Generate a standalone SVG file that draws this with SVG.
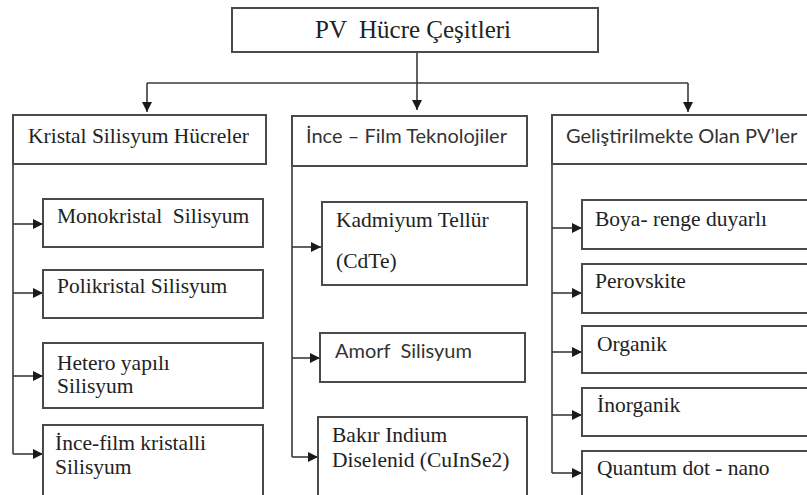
<svg xmlns="http://www.w3.org/2000/svg" width="807" height="495" viewBox="0 0 807 495">
<defs>
<marker id="ah" viewBox="0 0 10 10" refX="10" refY="5" markerWidth="10" markerHeight="10" markerUnits="userSpaceOnUse" orient="auto">
<path d="M0,0 L10,5 L0,10 z" fill="#1a1a1a"/>
</marker>
</defs>
<style>
.box{fill:#fff;stroke:#4a4a4a;stroke-width:2}
.ln{fill:none;stroke:#3a3a3a;stroke-width:1.6}
.s{font-family:"Liberation Serif","DejaVu Serif",serif;font-size:21.5px;fill:#222}
.t{font-family:"Liberation Serif","DejaVu Serif",serif;font-size:25px;fill:#222}
.a{font-family:Lato,"Liberation Sans",sans-serif;font-size:20px;fill:#333}
</style>
<rect width="807" height="495" fill="#fff"/>
<g id="connectors">
<path class="ln" d="M417,52 V110" marker-end="url(#ah)"/>
<path class="ln" d="M147,83 H688"/>
<path class="ln" d="M147,83 V112" marker-end="url(#ah)"/>
<path class="ln" d="M688,83 V112" marker-end="url(#ah)"/>
<path class="ln" d="M13,164 V454"/>
<path class="ln" d="M13,224 H43" marker-end="url(#ah)"/>
<path class="ln" d="M13,293 H43" marker-end="url(#ah)"/>
<path class="ln" d="M13,376 H43" marker-end="url(#ah)"/>
<path class="ln" d="M13,454 H43" marker-end="url(#ah)"/>
<path class="ln" d="M292,166 V457"/>
<path class="ln" d="M292,247 H321" marker-end="url(#ah)"/>
<path class="ln" d="M292,358 H320" marker-end="url(#ah)"/>
<path class="ln" d="M292,457 H318" marker-end="url(#ah)"/>
<path class="ln" d="M552,164 V473"/>
<path class="ln" d="M552,228 H582" marker-end="url(#ah)"/>
<path class="ln" d="M552,293 H582" marker-end="url(#ah)"/>
<path class="ln" d="M552,352 H582" marker-end="url(#ah)"/>
<path class="ln" d="M552,415 H582" marker-end="url(#ah)"/>
<path class="ln" d="M552,473 H582" marker-end="url(#ah)"/>
</g>
<g id="root"><rect class="box" x="232" y="8" width="366" height="44"/><text class="t" x="315" y="38" xml:space="preserve">PV  Hücre Çeşitleri</text></g>
<g id="kristal"><rect class="box" x="13" y="115" width="253" height="49"/><text class="s" x="28" y="143">Kristal Silisyum Hücreler</text></g>
<g id="mono"><rect class="box" x="43" y="199" width="220" height="48"/><text class="s" x="57" y="223" xml:space="preserve">Monokristal  Silisyum</text></g>
<g id="poli"><rect class="box" x="43" y="270" width="220" height="48"/><text class="s" x="57" y="293">Polikristal Silisyum</text></g>
<g id="hetero"><rect class="box" x="43" y="343" width="220" height="65"/><text class="s" x="57" y="370">Hetero yapılı</text><text class="s" x="57" y="393">Silisyum</text></g>
<g id="incefilmk"><rect class="box" x="43" y="425" width="220" height="80"/><text class="s" x="55" y="450">İnce-film kristalli</text><text class="s" x="55" y="474">Silisyum</text></g>
<g id="incefilm"><rect class="box" x="292" y="116" width="235" height="50"/><text class="a" x="306" y="143">İnce – Film Teknolojiler</text></g>
<g id="cdte"><rect class="box" x="322" y="202" width="205" height="83"/><text class="s" x="336" y="227">Kadmiyum Tellür</text><text class="s" x="336" y="268">(CdTe)</text></g>
<g id="amorf"><rect class="box" x="320" y="333" width="205" height="49"/><text class="a" x="335" y="358" xml:space="preserve">Amorf  Silisyum</text></g>
<g id="cis"><rect class="box" x="318" y="417" width="209" height="90"/><text class="s" x="332" y="442">Bakır Indium</text><text class="s" x="332" y="467">Diselenid (CuInSe2)</text></g>
<g id="gelis"><rect class="box" x="552" y="115" width="270" height="49"/><text class="a" x="566" y="143">Geliştirilmekte Olan PV’ler</text></g>
<g id="boya"><rect class="box" x="582" y="200" width="240" height="49"/><text class="s" x="595" y="226">Boya- renge duyarlı</text></g>
<g id="perov"><rect class="box" x="582" y="264" width="240" height="49"/><text class="s" x="595" y="288">Perovskite</text></g>
<g id="organik"><rect class="box" x="582" y="326" width="240" height="47"/><text class="s" x="597" y="351">Organik</text></g>
<g id="inorganik"><rect class="box" x="582" y="388" width="240" height="48"/><text class="s" x="597" y="412">İnorganik</text></g>
<g id="quantum"><rect class="box" x="582" y="451" width="240" height="60"/><text class="s" x="597" y="475">Quantum dot - nano</text></g>
</svg>
